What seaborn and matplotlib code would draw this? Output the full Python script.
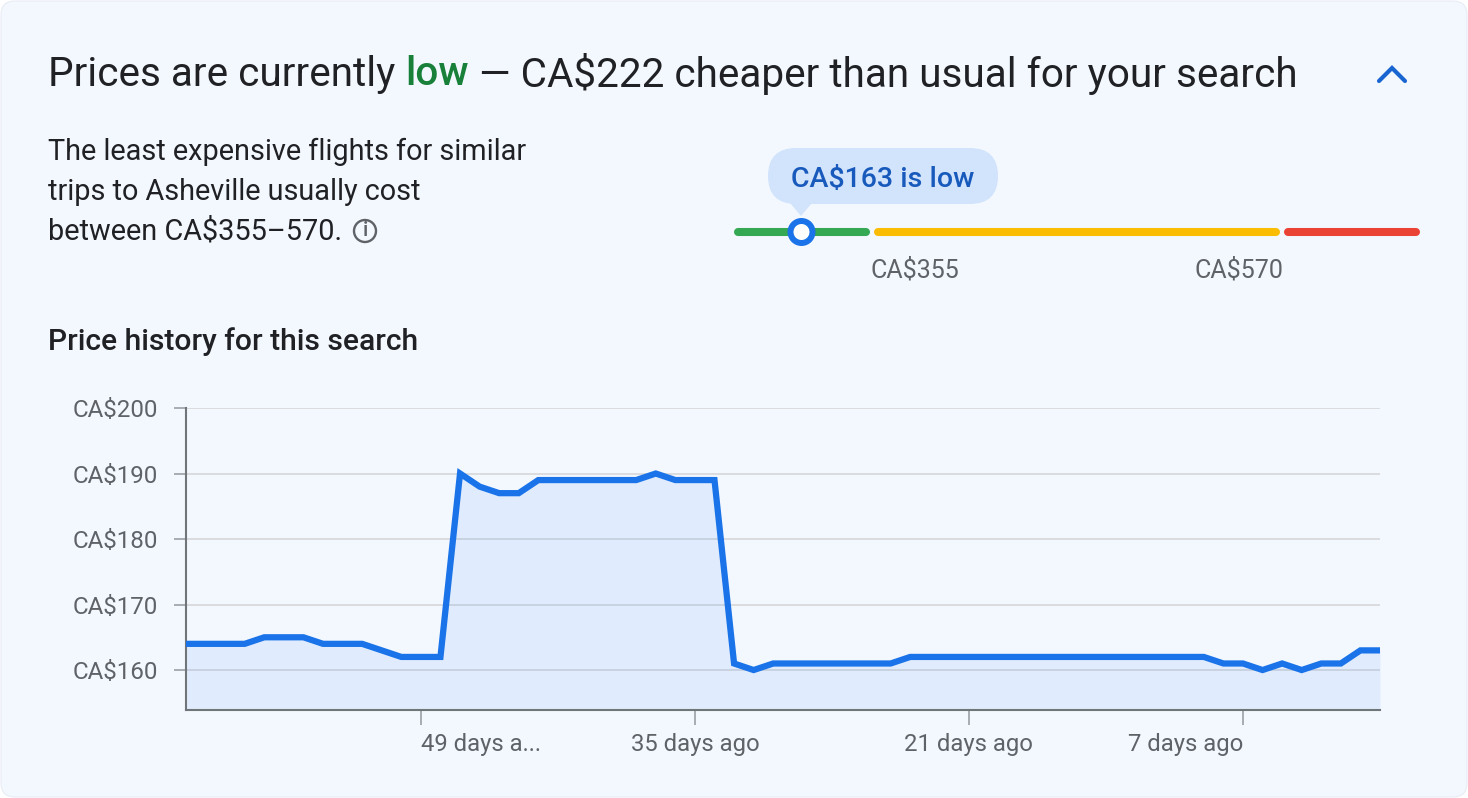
import matplotlib
matplotlib.use('Agg')
import matplotlib.pyplot as plt
from matplotlib.patches import Circle, FancyBboxPatch, Polygon
import pandas as pd
import seaborn as sns

# Price history, one value per day
days_ago = list(range(61, -1, -1))
prices = [164, 164, 164, 164, 165, 165, 165, 164, 164, 164, 163, 162, 162, 162,
          190, 188, 187, 187, 189, 189, 189, 189, 189, 189, 190, 189, 189, 189,
          161, 160, 161, 161, 161, 161, 161, 161, 161,
          162, 162, 162, 162, 162, 162, 162, 162, 162, 162, 162, 162, 162, 162, 162, 162,
          161, 161, 160, 161, 160, 161, 161, 163, 163]
y_ticks = [160, 170, 180, 190, 200]
y_labels = ['CA$160', 'CA$170', 'CA$180', 'CA$190', 'CA$200']
x_ticks = [49, 35, 21, 7]
x_labels = ['49 days a...', '35 days ago', '21 days ago', '7 days ago']
x_label_align = ['left', 'center', 'center', 'right']

title_parts = ['Prices are currently ', 'low', ' — CA$222 cheaper than usual for your search']
body_lines = ['The least expensive flights for similar',
              'trips to Asheville usually cost',
              'between CA$355–570.']

W, H = 1468, 798
BLUE = '#1a73e8'
GREY = '#5f6368'
DARK = '#202124'
CARD = '#f3f8ff'

df = pd.DataFrame({'days_ago': days_ago, 'price': prices})

sns.set_theme(style='white')
plt.rcParams['font.family'] = ['Roboto', 'DejaVu Sans']

fig = plt.figure(figsize=(W / 100, H / 100), dpi=100, facecolor='white')

# background layer in pixel coordinates for the card, text and gauge
bg = fig.add_axes([0, 0, 1, 1])
bg.set_xlim(0, W)
bg.set_ylim(H, 0)
bg.axis('off')
bg.add_patch(FancyBboxPatch((12, 12), W - 24, H - 24, boxstyle='round,pad=11,rounding_size=14',
                            fc=CARD, ec='#e8edf5', lw=0.8))

# title with the coloured word
x = 48
renderer = fig.canvas.get_renderer()
for part, color in zip(title_parts, [DARK, '#188038', DARK]):
    t = bg.text(x, 74, part.replace(' ', '\u00a0'), fontsize=29.15, color=color, va='center', ha='left',
                fontweight='medium' if part == 'low' else 'normal')
    x = bg.transData.inverted().transform(t.get_window_extent(renderer))[1][0]

# chevron
bg.plot([1379, 1392, 1405], [81, 68, 81], color='#1a66d0', lw=3, solid_joinstyle='miter')

for y, line in zip([152, 192, 232], body_lines):
    bg.text(48, y, line, fontsize=20.75, color=DARK, va='center', ha='left')

# info icon
bg.add_patch(Circle((365, 231), 11, fc='none', ec=GREY, lw=1.7))
bg.text(365, 231, 'i', fontsize=15, color=GREY, va='center', ha='center', fontweight='medium')

bg.text(48, 342, 'Price history for this search', fontsize=21.6, color=DARK, va='center', ha='left',
        fontweight='medium')

# gauge
bg.plot([738, 866], [232, 232], color='#34a853', lw=5.8, solid_capstyle='round')
bg.plot([878, 1276], [232, 232], color='#fbbc04', lw=5.8, solid_capstyle='round')
bg.plot([1288, 1416], [232, 232], color='#ea4335', lw=5.8, solid_capstyle='round')
bg.add_patch(FancyBboxPatch((796, 176), 174, 0, boxstyle='round,pad=28,rounding_size=28',
                            fc='#d2e3fc', ec='none'))
bg.add_patch(Polygon([[790, 203], [812, 203], [801, 216]], fc='#d2e3fc', ec='none'))
bg.text(883, 180, 'CA$163 is low', fontsize=20.5, color='#185abc', va='center', ha='center',
        fontweight='medium')
bg.add_patch(Circle((801.5, 232), 11, fc='white', ec=BLUE, lw=4.3, zorder=5))
bg.text(870.5, 270, 'CA$355', fontsize=18, color=GREY, va='center', ha='left')
bg.text(1283, 270, 'CA$570', fontsize=18, color=GREY, va='center', ha='right')

# price history chart
ax = fig.add_axes([186 / W, 1 - 710 / H, (1380 - 186) / W, (710 - 408) / H])
ax.patch.set_visible(False)
ax.grid(axis='y', color='#dadce0', lw=1.4, zorder=0)
ax.set_axisbelow(True)
ax.fill_between(df['days_ago'], df['price'], 150, color=BLUE, alpha=0.088, lw=0, zorder=2)
sns.lineplot(data=df, x='days_ago', y='price', ax=ax, color=BLUE, linewidth=4.5, zorder=3)
ax.lines[-1].set_solid_joinstyle('miter')
ax.set_xlim(61, 0)
ax.set_ylim(153.9, 200)
ax.set_xlabel('')
ax.set_ylabel('')
ax.set_yticks(y_ticks, y_labels)
ax.set_xticks(x_ticks, x_labels)
for label, align in zip(ax.get_xticklabels(), x_label_align):
    label.set_ha(align)
ax.tick_params(axis='y', length=8.5, width=1.2, color='#9aa0a6', labelcolor=GREY, labelsize=17.4, pad=11.5, left=True)
ax.tick_params(axis='x', length=11, width=1.2, color='#9aa0a6', labelcolor=GREY, labelsize=17.2, pad=5.5, bottom=True)
sns.despine(ax=ax)
for side in ['left', 'bottom']:
    ax.spines[side].set_color('#70757a')
    ax.spines[side].set_linewidth(1.5)

fig.savefig('out.png', dpi=100, facecolor='white')
